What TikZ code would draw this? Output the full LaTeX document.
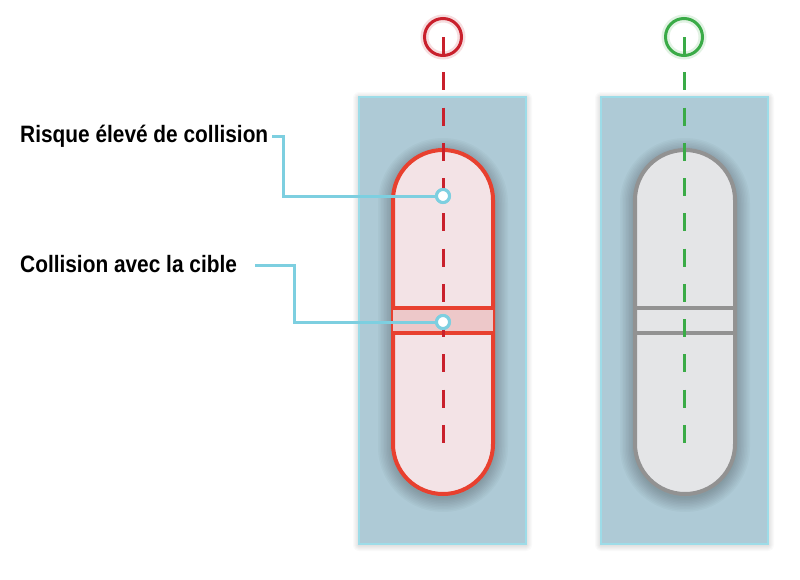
\documentclass[tikz,border=0pt]{standalone}
\usepackage{fontspec}
\setmainfont{Liberation Sans}
\usepackage{graphicx}
\definecolor{panelfill}{HTML}{AECAD6}
\definecolor{panelborder}{HTML}{9DDCE8}
\definecolor{capred}{HTML}{E8402F}
\definecolor{capredfill}{HTML}{F3E3E6}
\definecolor{bandred}{HTML}{EDC8C9}
\definecolor{dashred}{HTML}{C9202C}
\definecolor{dashgreen}{HTML}{3AAB47}
\definecolor{capgray}{HTML}{929292}
\definecolor{capgrayfill}{HTML}{E4E5E7}
\definecolor{callout}{HTML}{7DCFE0}
\tikzset{
  panel/.style={draw=panelborder, fill=panelfill, line width=2pt, minimum width=167pt, minimum height=447pt, inner sep=0pt},
  capsule/.style={line width=4pt, rounded corners=50pt, minimum width=100pt, minimum height=344pt, inner sep=0pt},
  band/.style={minimum width=100pt, minimum height=25pt, inner sep=0pt},
  axisline/.style={line width=3pt, dash pattern=on 18pt off 17.25pt},
  topring/.style={circle, line width=3pt, minimum size=37pt, inner sep=0pt},
  halo/.style={circle, line width=8pt, minimum size=37pt, inner sep=0pt, draw opacity=0.15},
  calloutline/.style={draw=callout, line width=3pt},
  calloutdot/.style={circle, draw=callout, fill=white, line width=3pt, minimum size=13pt, inner sep=0pt},
  label/.style={inner sep=0pt, anchor=base west, font=\bfseries\fontsize{23.7}{28}\selectfont},
  softshade/.style={fill=black, fill opacity=#1},
}
\begin{document}
\begin{tikzpicture}[x=1pt,y=-1pt]
\useasboundingbox (0,0) rectangle (800,579);
\fill[white] (0,0) rectangle (800,579);
% panel shadows
\foreach \cx in {442.5,684.5} {
  \foreach \d in {1,2,...,6} {
    \fill[softshade=0.018, rounded corners=\d pt] (\cx-83.5-\d, 97-\d+1) rectangle (\cx+83.5+\d, 544+\d+1);
  }
}
% panels
\node[panel] (pL) at (442.5,320.5) {};
\node[panel] (pR) at (684.5,320.5) {};
% capsule shadows
\foreach \cx in {443,685} {
  \foreach \d in {1.5,3,...,15} {
    \fill[softshade=0.022, rounded corners=50pt+\d pt] (\cx-50-\d, 150-\d+3) rectangle (\cx+50+\d, 494+\d+3);
  }
}
% capsules
\node[capsule, draw=capred, fill=capredfill] (capL) at (443,322) {};
\node[capsule, draw=capgray, fill=capgrayfill] (capR) at (685,322) {};
% bands
\node[band, fill=bandred] (bandL) at (443,320.5) {};
\node[band] (bandR) at (685,320.5) {};
\draw[capred, line width=4pt] (bandL.north west) -- (bandL.north east) (bandL.south west) -- (bandL.south east);
\draw[capgray, line width=4pt] (bandR.north west) -- (bandR.north east) (bandR.south west) -- (bandR.south east);
% top rings and axes
\node[halo, draw=dashred] at (443,37) {};
\node[halo, draw=dashgreen] at (684,37) {};
\node[topring, draw=dashred] (tL) at (443,37) {};
\node[topring, draw=dashgreen] (tR) at (684,37) {};
\coordinate (eL) at (443,443);
\coordinate (eR) at (684,443);
\draw[axisline, dashred] (tL.center) -- (eL);
\draw[axisline, dashgreen] (tR.center) -- (eR);
% labels
\node[label] (lab1) at (20,142) {\scalebox{0.88}[1]{Risque élevé de collision}};
\node[label] (lab2) at (20,272) {\scalebox{0.88}[1]{Collision avec la cible}};
\coordinate (s1) at (272,136);
\coordinate (s2) at (255,265);
\node[calloutdot] (c1) at (443,196) {};
\node[calloutdot] (c2) at (443,322) {};
\draw[calloutline] (s1) -- ++(11,0) |- (c1.west);
\draw[calloutline] (s2) -- ++(39,0) |- (c2.west);
\node[calloutdot] at (c1) {};
\node[calloutdot] at (c2) {};
\end{tikzpicture}
\end{document}
